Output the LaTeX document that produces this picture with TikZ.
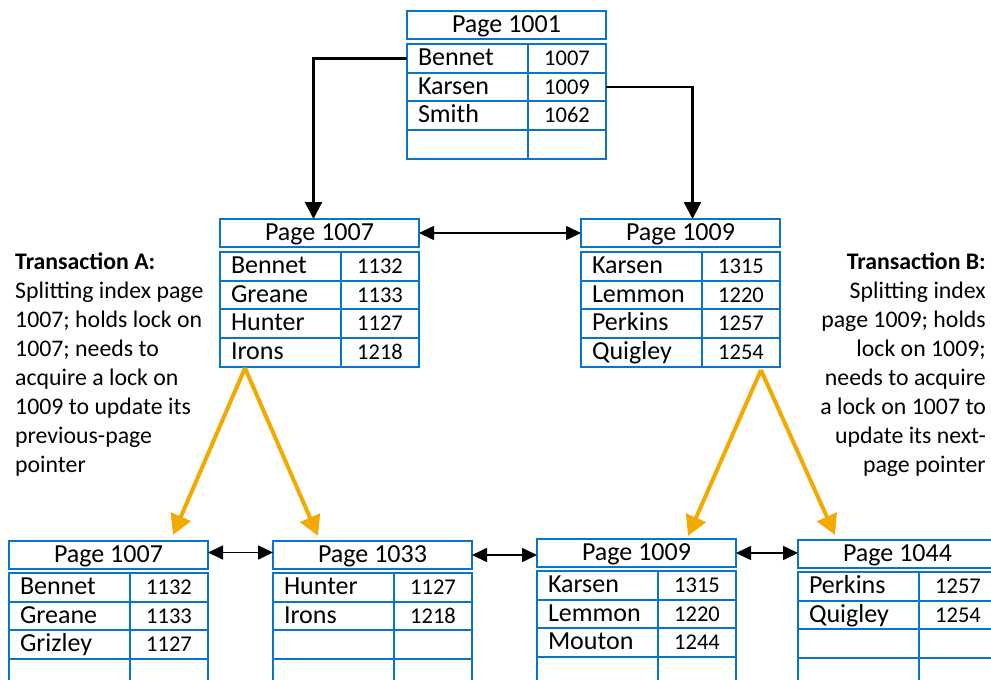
\documentclass[tikz,border=0pt]{standalone}
\usepackage{fontspec}
\setmainfont{Carlito}
\usetikzlibrary{arrows.meta}
\definecolor{boxblue}{HTML}{0A74C8}
\definecolor{arrorange}{HTML}{F2A900}
\newcommand{\fnTitle}{\fontsize{26}{30}\selectfont}
\newcommand{\fnName}{\fontsize{26}{30}\selectfont}
\newcommand{\fnNum}{\fontsize{22.5}{26}\selectfont}
\newcommand{\fnNote}{\fontsize{23.8}{29}\selectfont}
\tikzset{
  cell/.style={draw=boxblue, line width=2.1pt, minimum height=28.7pt, inner ysep=0pt,
    text height=18pt, text depth=4pt, anchor=north west, outer sep=0pt},
  namecell/.style={cell, minimum width=121pt, inner xsep=11pt, text width=99pt, align=left, font=\fnName},
  numcell/.style={cell, minimum width=78pt, inner xsep=0pt, align=center, font=\fnNum},
  titlebox/.style={draw=boxblue, line width=2.1pt, minimum width=199pt, minimum height=28pt,
    inner sep=0pt, text height=18pt, text depth=4pt, anchor=north west, outer sep=0pt, font=\fnTitle},
  elbow/.style={black, line width=2.3pt, -{Triangle[length=17pt,width=17pt]}},
  dbl/.style={black, line width=1.6pt, {Triangle[length=15pt,width=14pt]}-{Triangle[length=15pt,width=14pt]}},
  orangearr/.style={arrorange, line width=4pt, -{Triangle[length=20pt,width=21pt]}},
  note/.style={font=\fnNote, inner sep=0pt}
}
\newcommand{\pgbox}[6]{%
  \node[titlebox] (#1) at (#2,#3) {#5};
  \foreach \nm/\vl [count=\i] in {#6} {
    \node[namecell] (#1-n\i) at (#2, {#4+(\i-1)*28.7}) {\nm};
    \node[numcell] (#1-v\i) at ({#2+121}, {#4+(\i-1)*28.7}) {\vl};
  }%
}
\begin{document}
\begin{tikzpicture}[x=1pt,y=-1pt]
\useasboundingbox (0,0) rectangle (991,680);
\clip (0,0) rectangle (991,680);

% top
\pgbox{p1001}{407}{11}{44}{Page 1001}{Bennet/1007, Karsen/1009, Smith/1062, {}/{}}
% middle
\pgbox{m1007}{220}{219}{252}{Page 1007}{Bennet/1132, Greane/1133, Hunter/1127, Irons/1218}
\pgbox{m1009}{581}{219}{252}{Page 1009}{Karsen/1315, Lemmon/1220, Perkins/1257, Quigley/1254}
% bottom
\pgbox{b1007}{9}{541}{573}{Page 1007}{Bennet/1132, Greane/1133, Grizley/1127, {}/{}}
\pgbox{b1033}{273}{541}{573}{Page 1033}{Hunter/1127, Irons/1218, {}/{}, {}/{}}
\pgbox{b1009}{537}{539}{571}{Page 1009}{Karsen/1315, Lemmon/1220, Mouton/1244, {}/{}}
\pgbox{b1044}{798}{540}{572}{Page 1044}{Perkins/1257, Quigley/1254, {}/{}, {}/{}}

% notes
\node[note, anchor=north west, align=left] (ta) at (15,253)
  {\textbf{Transaction A:}\\Splitting index page\\1007; holds lock on\\1007; needs to\\acquire a lock on\\1009 to update its\\previous-page\\pointer};
\node[note, anchor=north east, align=right] (tb) at (986,253)
  {\textbf{Transaction B:}\\Splitting index\\page 1009; holds\\lock on 1009;\\needs to acquire\\a lock on 1007 to\\update its next-\\page pointer};

% black connectors
\draw[elbow] (p1001-n1.west) -| ([xshift=-6pt]m1007.north);
\draw[elbow] (p1001-v2.east) -| ([xshift=12pt]m1009.north);
\draw[dbl] (m1007.east) -- (m1009.west);
\draw[dbl] ([yshift=2.5pt]b1007.east) -- ([yshift=2.5pt]b1007.east -| b1033.west);
\draw[dbl] (b1033.east) -- (b1033.east -| b1009.west);
\draw[dbl] (b1009.east) -- (b1009.east -| b1044.west);

% orange connectors
\coordinate (oa) at (245,368);
\coordinate (oa1) at (173,535);
\coordinate (oa2) at (318,536);
\coordinate (ob) at (761,370);
\coordinate (ob1) at (688,536);
\coordinate (ob2) at (835,535);
\draw[orangearr] (oa) -- (oa1);
\draw[orangearr] (oa) -- (oa2);
\draw[orangearr] (ob) -- (ob1);
\draw[orangearr] (ob) -- (ob2);
\end{tikzpicture}
\end{document}
